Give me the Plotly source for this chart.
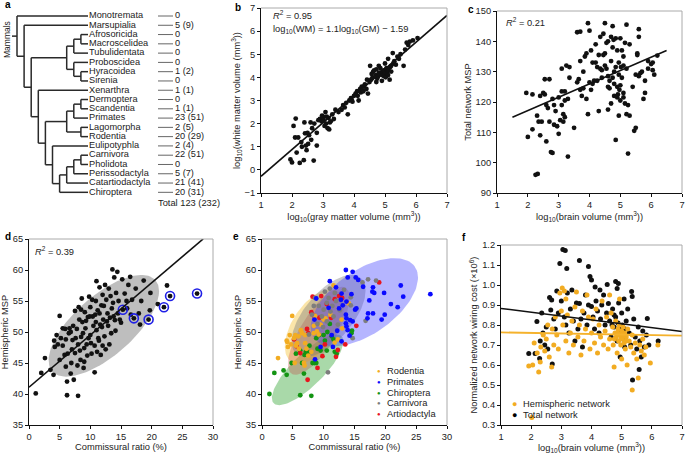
import numpy as np
import plotly.graph_objects as go

W, H = 685, 454
FONT = "Liberation Sans, Arial, sans-serif"

# ---------------- panel a: phylogeny ----------------
taxa = ["Monotremata", "Marsupialia", "Afrosoricida", "Macroscelidea", "Tubulidentata",
        "Proboscidea", "Hyracoidea", "Sirenia", "Xenarthra", "Dermoptera", "Scandentia",
        "Primates", "Lagomorpha", "Rodentia", "Eulipotyphla", "Carnivora", "Pholidota",
        "Perissodactyla", "Catartiodactyla", "Chiroptera"]
counts = ["0", "5 (9)", "0", "0", "0", "0", "1 (2)", "0", "1 (1)", "0", "1 (1)",
          "23 (51)", "2 (5)", "20 (29)", "2 (4)", "22 (51)", "0", "5 (7)", "21 (41)", "20 (31)"]
total_label = "Total 123 (232)"
tree = ("Monotremata",
        ("Marsupialia",
         (((("Afrosoricida", "Macroscelidea"), "Tubulidentata"),
           ("Proboscidea", ("Hyracoidea", "Sirenia"))),
          ("Xenarthra",
           (((("Dermoptera", "Scandentia"), "Primates"), ("Lagomorpha", "Rodentia")),
            ("Eulipotyphla",
             (((("Carnivora", "Pholidota"), "Perissodactyla"), "Catartiodactyla"),
              "Chiroptera")))))))

# ---------------- panel b ----------------
b_pts = [(1.95, 0.45), (2.0, 0.32), (2.05, 1.9), (2.1, 1.4), (2.12, 2.22), (2.15, 0.75), (2.2, 1.4),
         (2.25, 0.3), (2.3, 1.2), (2.32, 1.0), (2.38, 0.42), (2.4, 2.05), (2.42, 1.58), (2.45, 1.05),
         (2.47, 0.85), (2.5, 1.6), (2.52, 1.12), (2.55, 1.5), (2.6, 2.05), (2.62, 1.3), (2.65, 1.8),
         (2.7, 0.4), (2.72, 2.0), (2.8, 1.05), (2.8, 1.6), (2.85, 2.15), (2.9, 2.2), (2.95, 2.1),
         (2.97, 2.35), (3.0, 2.3), (3.02, 2.15), (3.05, 1.9), (3.08, 2.5), (3.1, 2.0), (3.12, 2.3),
         (3.15, 1.8), (3.18, 2.25), (3.2, 1.75), (3.22, 2.05), (3.25, 2.1), (3.3, 2.4), (3.35, 2.2),
         (3.4, 2.6), (3.5, 2.5), (3.6, 2.6), (3.65, 2.8), (3.7, 2.7), (3.75, 2.9), (3.8, 2.4),
         (3.85, 3.0), (3.9, 3.1), (3.92, 3.05), (3.95, 2.95), (4.0, 3.2), (4.05, 3.3), (4.1, 3.4),
         (4.12, 3.2), (4.15, 3.0), (4.2, 3.5), (4.22, 3.35), (4.25, 3.6), (4.3, 3.4), (4.32, 3.6),
         (4.35, 3.7), (4.4, 3.5), (4.42, 3.9), (4.45, 3.3), (4.5, 3.8), (4.52, 4.5), (4.55, 3.9),
         (4.57, 4.15), (4.6, 4.0), (4.62, 4.25), (4.65, 4.3), (4.7, 4.1), (4.72, 4.35), (4.72, 3.8),
         (4.75, 3.95), (4.78, 4.05), (4.8, 4.2), (4.8, 4.5), (4.85, 4.4), (4.87, 4.2), (4.9, 4.1),
         (4.9, 3.85), (4.92, 4.25), (4.95, 4.3), (4.97, 4.05), (5.0, 4.6), (5.0, 4.2), (5.02, 4.0),
         (5.03, 4.35), (5.05, 4.4), (5.07, 4.15), (5.1, 4.1), (5.1, 4.8), (5.12, 4.3), (5.15, 3.9),
         (5.17, 4.45), (5.2, 4.5), (5.2, 4.25), (5.25, 5.05), (5.27, 4.6), (5.3, 4.7), (5.35, 4.55),
         (5.4, 4.9), (5.45, 4.8), (5.5, 5.0), (5.6, 4.5), (5.65, 5.2), (5.7, 5.5), (5.75, 5.4),
         (5.8, 5.55), (5.9, 5.6), (6.05, 5.7)]
b_fit = (1.16, -1.44)
b_fit_x = [1, 7]

# ---------------- panel c ----------------
c_pts = [(1.95, 123), (2.0, 108.5), (2.15, 122.5), (2.15, 111), (2.25, 96), (2.32, 96.3), (2.3, 115.5),
         (2.35, 113.5), (2.4, 122), (2.4, 109), (2.45, 113.5), (2.5, 123), (2.55, 127.5), (2.55, 122.5),
         (2.6, 119), (2.6, 107), (2.65, 118), (2.7, 127.5), (2.7, 113.5), (2.75, 103.5), (2.8, 103.2),
         (2.8, 121), (2.85, 119), (2.85, 112.5), (2.9, 117), (2.95, 112), (3.0, 121.5), (3.0, 109.5),
         (3.05, 114), (3.1, 131), (3.1, 123.5), (3.1, 119), (3.15, 116), (3.15, 113.5), (3.2, 123.5),
         (3.2, 120.5), (3.2, 115), (3.25, 132), (3.3, 102), (3.3, 121), (3.35, 131.5), (3.35, 128),
         (3.5, 111.5), (3.6, 143), (3.65, 127.5), (3.7, 143.2), (3.7, 133.5), (3.7, 124), (3.75, 122),
         (3.8, 130), (3.85, 135), (3.9, 136), (3.9, 121), (3.95, 146), (3.95, 116), (4.0, 143.5),
         (4.0, 126.5), (4.05, 137), (4.1, 133), (4.15, 127), (4.2, 139), (4.25, 131.5), (4.3, 135.5),
         (4.3, 117), (4.35, 141.5), (4.4, 128), (4.45, 142.5), (4.5, 146), (4.5, 136), (4.55, 131),
         (4.6, 140), (4.6, 117.5), (4.65, 124.5), (4.7, 133.5), (4.75, 145), (4.75, 138), (4.75, 128),
         (4.8, 122), (4.8, 130), (4.85, 141), (4.85, 107.5), (4.9, 137), (4.9, 125), (4.95, 133),
         (4.95, 115.5), (5.0, 141), (5.0, 120.5), (5.05, 128), (5.1, 135), (5.1, 123), (5.15, 139.5),
         (5.2, 145.5), (5.2, 131), (5.25, 103), (5.25, 119), (5.3, 139), (5.3, 115.5), (5.4, 125),
         (5.45, 110.5), (5.5, 111.5), (5.55, 136), (5.6, 144), (5.6, 141.5), (5.65, 129.5), (5.7, 130),
         (5.75, 121), (5.8, 123), (5.8, 127), (5.9, 133.5), (6.0, 132.5), (6.05, 130.5), (6.1, 129),
         (6.2, 135.3), (4.05, 124), (4.2, 133), (4.4, 130.5), (4.55, 139.5), (4.65, 127), (4.8, 126),
         (4.9, 121.5), (4.95, 129), (5.0, 125.5), (5.05, 137), (4.7, 119.5), (4.85, 131.5), (4.1, 126),
         (4.25, 127), (3.6, 126.5), (3.8, 124.5), (4.35, 131), (4.45, 135.5), (4.6, 128.5), (4.7, 141.5),
         (4.78, 140.5), (4.92, 122.5), (5.02, 131.5), (5.1, 121.5), (5.15, 119.5), (5.2, 116), (5.5, 129),
         (5.55, 135.5), (5.6, 128.5), (5.9, 131), (6.05, 133), (4.6, 125), (4.97, 124), (5.1, 132),
         (4.5, 132)]
c_fit = (4.4, 108.4)
c_fit_x = [1.5, 6.5]

# ---------------- panel d ----------------
d_pts = [(1.1, 40.1), (2.0, 43.4), (2.6, 45.8), (3.5, 43.9), (4.0, 43.1), (4.1, 48.6), (4.2, 47.6),
         (4.5, 49.5), (4.7, 48.0), (5.0, 52.6), (5.0, 45.5), (5.2, 49.0), (5.5, 47.8), (5.8, 46.3),
         (5.9, 50.5), (6.0, 48.8), (6.2, 39.8), (6.2, 42.0), (6.3, 46.5), (6.5, 49.8), (6.6, 50.6),
         (6.8, 43.3), (6.9, 45.0), (7.0, 47.2), (7.1, 48.7), (7.3, 42.3), (7.5, 53.4), (7.5, 46.6),
         (7.8, 50.5), (8.0, 39.7), (8.0, 48.0), (8.1, 54.0), (8.2, 52.0), (8.4, 45.5), (8.5, 49.2),
         (8.6, 55.4), (8.7, 51.6), (8.9, 44.2), (9.0, 47.4), (9.1, 53.2), (9.2, 50.6), (9.4, 48.0),
         (9.6, 52.4), (9.8, 55.7), (10.0, 54.0), (10.0, 49.5), (10.2, 46.5), (10.4, 52.5), (10.5, 51.0),
         (10.7, 43.5), (10.7, 47.8), (10.9, 55.0), (11.0, 58.2), (11.0, 50.3), (11.2, 53.5), (11.4, 48.6),
         (11.5, 57.2), (11.6, 51.2), (11.7, 46.3), (11.8, 54.3), (12.0, 56.0), (12.1, 52.0), (12.3, 49.3),
         (12.5, 47.2), (12.6, 55.2), (12.8, 53.0), (12.9, 51.0), (13.0, 57.0), (13.2, 52.3), (13.4, 49.8),
         (13.6, 60.1), (13.7, 54.7), (13.9, 58.8), (14.0, 51.9), (14.2, 56.3), (14.4, 59.7), (14.6, 55.0),
         (14.8, 52.0), (15.2, 58.5), (15.3, 53.6), (15.6, 56.2), (15.9, 55.0), (16.2, 57.6), (16.5, 58.9),
         (16.8, 55.2), (17.1, 52.2), (17.4, 57.0), (17.9, 53.0), (18.1, 51.2), (18.3, 55.0), (18.7, 58.3),
         (19.5, 52.0), (19.8, 56.3), (19.7, 53.5), (21.0, 54.5), (22.0, 54.0), (22.5, 57.5), (23.0, 55.8),
         (27.4, 56.2), (6.8, 50.0), (7.2, 51.0), (7.6, 49.0), (8.3, 47.0), (8.8, 49.8), (9.3, 51.8),
         (9.5, 46.2), (9.9, 52.5), (10.3, 55.2), (10.8, 52.8), (11.3, 49.0), (11.9, 50.8), (12.2, 54.2),
         (12.7, 51.7), (13.1, 48.0), (13.3, 55.8), (13.8, 52.5), (14.1, 50.2), (14.5, 53.0), (15.0, 51.5),
         (16.0, 53.8), (16.6, 52.8), (9.0, 45.2), (8.5, 53.6), (10.1, 48.2), (11.1, 46.8), (12.4, 57.6),
         (13.5, 53.8), (7.9, 44.6), (6.0, 44.4), (5.5, 50.6), (9.7, 49.0), (10.9, 51.6), (12.0, 47.8),
         (11.5, 53.0)]
d_ring_pts = [(15.3, 53.6), (17.1, 52.2), (19.5, 52.0), (22.0, 54.0), (23.0, 55.8), (27.4, 56.2)]
d_fit = (0.842, 41.1)
d_fit_x = [0, 28.4]
# ellipse: centre x, centre y, half-width x, half-height y, correlation
d_ell = (12.2, 51.0, 9.0, 8.2, 0.68)

# ---------------- panel e ----------------
orders = ["Rodentia", "Primates", "Chiroptera", "Carnivora", "Artiodactyla"]
order_colors = ["#f2ac22", "#0a0aff", "#139413", "#7d7d7d", "#e8141e"]
e_pts = {
    "Rodentia": [(2.6, 45.8), (4.0, 48.6), (4.1, 48.4), (4.2, 47.6), (4.5, 49.5), (4.7, 48.0), (4.9, 52.6),
                 (5.2, 49.0), (5.4, 49.5), (5.5, 47.8), (5.7, 48.2), (5.9, 49.3), (6.3, 50.3), (6.5, 49.8),
                 (7.0, 48.2), (7.0, 49.5), (7.2, 47.3), (7.5, 46.2), (6.8, 45.0), (6.9, 44.6), (8.0, 46.8),
                 (8.4, 51.0), (8.4, 49.8), (8.6, 52.6), (8.9, 50.1), (9.5, 51.2), (10.0, 52.0), (10.3, 52.2),
                 (11.1, 52.8), (11.6, 57.5), (11.8, 48.3), (12.9, 52.0), (13.0, 50.6), (5.3, 45.0),
                 (6.0, 47.3), (9.2, 49.6), (12.3, 48.8), (14.1, 54.6)],
    "Primates": [(13.6, 60.0), (14.7, 59.7), (13.9, 58.8), (15.2, 58.8), (15.6, 58.4), (11.0, 58.2),
                 (12.0, 57.2), (16.4, 57.3), (18.0, 57.2), (17.9, 56.5), (18.2, 56.3), (19.8, 56.3),
                 (22.5, 57.5), (22.9, 55.7), (27.3, 56.1), (20.9, 54.5), (22.0, 54.0), (17.4, 55.1),
                 (17.2, 53.0), (18.0, 53.0), (19.9, 52.8), (19.4, 52.0), (17.1, 52.2), (13.6, 52.8),
                 (13.7, 52.2), (13.6, 51.4), (14.3, 51.9), (13.7, 50.9), (15.1, 53.6), (15.3, 53.8),
                 (12.8, 55.2), (13.1, 54.3), (13.7, 54.9), (14.5, 56.1), (12.9, 48.5), (11.3, 49.5),
                 (12.9, 56.2), (10.8, 53.9), (8.8, 55.4), (9.5, 47.6), (8.6, 45.6), (11.5, 47.6),
                 (14.2, 49.4), (12.2, 50.2), (14.7, 51.7), (13.9, 50.3), (12.5, 53.8), (8.5, 52.0)],
    "Chiroptera": [(1.2, 40.0), (2.0, 43.4), (3.5, 43.8), (4.0, 43.1), (4.8, 45.0), (5.5, 46.5), (6.2, 39.8),
                   (6.2, 47.0), (6.5, 45.0), (6.8, 43.3), (6.9, 46.3), (7.1, 46.8), (7.3, 46.5), (7.5, 46.7),
                   (8.0, 39.7), (8.2, 45.0), (8.5, 45.0), (8.8, 45.0), (9.0, 47.3), (9.5, 47.0), (10.0, 49.5),
                   (10.2, 48.6), (10.5, 47.0), (11.0, 51.3), (11.6, 48.8), (11.8, 46.8), (12.1, 46.5),
                   (14.6, 50.2), (14.5, 49.8), (9.3, 49.5), (8.8, 49.0), (10.6, 50.0), (7.7, 47.8),
                   (11.3, 49.3)],
    "Carnivora": [(10.8, 55.5), (10.5, 54.7), (11.4, 54.2), (10.0, 53.6), (11.1, 53.3), (11.6, 52.5),
                  (9.7, 52.5), (10.5, 51.7), (9.2, 54.2), (8.4, 54.2), (8.6, 55.5), (8.1, 52.8), (12.0, 55.0),
                  (12.3, 51.2), (7.6, 49.6), (10.7, 43.5), (14.7, 49.0), (17.2, 58.5), (18.5, 58.3),
                  (16.3, 58.0), (16.8, 51.8), (14.4, 55.6), (11.8, 56.3), (14.4, 54.3), (9.9, 50.8),
                  (10.2, 56.5), (11.0, 57.0), (9.0, 51.3), (12.6, 53.5), (13.3, 56.8)],
    "Artiodactyla": [(5.2, 48.8), (5.6, 47.7), (6.2, 46.6), (7.4, 42.3), (7.5, 49.8), (7.3, 50.5), (8.0, 53.2),
                     (8.2, 55.7), (8.5, 52.6), (9.0, 44.2), (9.3, 52.3), (9.6, 55.8), (10.5, 54.5), (11.2, 52.3),
                     (12.0, 46.0), (12.3, 47.1), (12.5, 55.8), (13.0, 55.5), (13.5, 48.0), (15.3, 51.0),
                     (19.0, 58.0), (11.8, 55.3), (10.2, 48.0), (9.8, 46.1)],
}
e_ell = {
    "Chiroptera": (7.4, 43.9, 5.8, 5.7, 0.8),
    "Rodentia": (8.5, 50.9, 4.8, 6.0, 0.54),
    "Artiodactyla": (9.2, 50.2, 5.0, 7.1, 0.75),
    "Carnivora": (10.8, 52.6, 6.0, 6.6, 0.62),
    "Primates": (16.6, 54.8, 8.7, 7.1, 0.56),
}
e_ell_order = ["Chiroptera", "Rodentia", "Artiodactyla", "Carnivora", "Primates"]

# ---------------- panel f ----------------
f_total = [(1.92, 0.658), (2.13, 0.658), (2.19, 0.817), (2.28, 0.633), (2.3, 0.72), (2.35, 0.86), (2.39, 0.76),
           (2.45, 0.70), (2.5, 0.79), (2.55, 0.68), (2.61, 0.937), (2.65, 0.875), (2.68, 0.925), (2.7, 0.605),
           (2.75, 0.83), (2.8, 0.78), (2.85, 0.97), (2.9, 0.86), (2.95, 1.108), (3.0, 0.92), (3.05, 1.178),
           (3.1, 0.84), (3.13, 1.172), (3.15, 0.8), (3.18, 1.083), (3.2, 0.96), (3.25, 0.76), (3.3, 0.88),
           (3.35, 0.975), (3.4, 0.82), (3.45, 0.72), (3.5, 0.91), (3.55, 0.78), (3.6, 1.122), (3.6, 0.908),
           (3.65, 0.83), (3.7, 0.69), (3.75, 0.86), (3.8, 0.95), (3.85, 0.8), (3.9, 1.092), (3.9, 0.9),
           (3.95, 1.042), (4.0, 1.025), (4.0, 0.892), (4.05, 0.84), (4.1, 0.78), (4.12, 0.99), (4.15, 0.92),
           (4.2, 0.87), (4.25, 0.76), (4.28, 0.975), (4.3, 0.83), (4.34, 0.9), (4.4, 0.95), (4.45, 0.8),
           (4.5, 0.86), (4.52, 1.003), (4.56, 0.908), (4.6, 0.82), (4.65, 0.74), (4.7, 0.88), (4.75, 0.79),
           (4.8, 1.017), (4.8, 0.84), (4.85, 0.983), (4.85, 0.72), (4.89, 1.008), (4.9, 0.91), (4.92, 0.77),
           (4.95, 0.64), (5.0, 0.86), (5.02, 0.8), (5.05, 0.73), (5.08, 0.93), (5.1, 0.69), (5.15, 0.82),
           (5.2, 0.88), (5.25, 0.76), (5.3, 0.7), (5.33, 0.967), (5.35, 0.942), (5.36, 0.525), (5.4, 0.83),
           (5.45, 0.74), (5.5, 0.68), (5.55, 0.79), (5.58, 0.578), (5.6, 0.72), (5.65, 0.64), (5.7, 0.77),
           (5.75, 0.69), (5.82, 0.75), (5.85, 0.833), (5.9, 0.7), (6.21, 0.72), (4.98, 0.78), (4.88, 0.81),
           (4.75, 0.85), (5.12, 0.78), (4.68, 0.8)]
f_hemi = [(1.92, 0.595), (2.05, 0.6), (2.1, 0.71), (2.2, 0.66), (2.25, 0.565), (2.3, 0.615), (2.32, 0.69),
          (2.4, 0.75), (2.45, 0.67), (2.5, 0.73), (2.55, 0.8), (2.6, 0.64), (2.68, 0.59), (2.7, 0.78),
          (2.75, 0.7), (2.8, 0.84), (2.85, 0.75), (2.9, 0.68), (2.95, 0.96), (3.0, 0.87), (3.03, 0.985),
          (3.05, 0.8), (3.1, 0.97), (3.15, 0.93), (3.15, 0.72), (3.2, 0.85), (3.25, 0.66), (3.3, 0.76),
          (3.35, 0.82), (3.4, 0.7), (3.45, 0.89), (3.5, 0.965), (3.55, 0.74), (3.6, 0.8), (3.65, 0.65),
          (3.7, 0.87), (3.75, 0.72), (3.8, 0.78), (3.85, 0.95), (3.9, 0.84), (3.95, 0.68), (4.0, 0.76),
          (4.05, 0.83), (4.1, 0.71), (4.15, 0.88), (4.2, 0.66), (4.25, 0.8), (4.3, 0.74), (4.35, 0.92),
          (4.4, 0.7), (4.45, 0.77), (4.5, 0.84), (4.55, 0.68), (4.6, 0.73), (4.65, 0.86), (4.7, 0.79),
          (4.72, 0.7), (4.75, 0.59), (4.78, 0.76), (4.8, 0.82), (4.82, 0.74), (4.85, 0.66), (4.88, 0.78),
          (4.9, 0.72), (4.92, 0.8), (4.95, 0.75), (4.97, 0.7), (5.0, 0.77), (5.0, 0.63), (5.02, 0.73),
          (5.05, 0.79), (5.08, 0.71), (5.1, 0.76), (5.12, 0.68), (5.15, 0.74), (5.18, 0.6), (5.2, 0.78),
          (5.25, 0.72), (5.3, 0.69), (5.35, 0.475), (5.35, 0.75), (5.4, 0.66), (5.45, 0.71), (5.5, 0.63),
          (5.55, 0.535), (5.6, 0.7), (5.65, 0.67), (5.7, 0.73), (5.75, 0.65), (5.8, 0.69), (5.95, 0.61),
          (6.2, 0.70), (2.02, 0.337), (4.93, 0.93), (4.6, 0.95), (4.87, 0.76), (4.98, 0.74), (5.06, 0.75),
          (4.76, 0.73), (5.14, 0.72)]
f_total_fit = (-0.0193, 0.902)
f_hemi_fit = (-0.00267, 0.7657)
f_fit_x = [1, 7]

BLACK = "#111111"
ORANGE = "#f2ac22"


def px(x):
    return x / W


def py(y):
    return 1 - y / H


def xs(p):
    return [a for a, _ in p]


def ys(p):
    return [b for _, b in p]


def fit_line(coef, xr):
    xr = np.array(xr, dtype=float)
    return xr, coef[0] * xr + coef[1]


def ellipse(e, n=120):
    cx, cy, rx, ry, rho = e
    t = np.linspace(0, 2 * np.pi, n)
    return cx + rx * np.cos(t), cy + ry * (rho * np.cos(t) + np.sqrt(1 - rho ** 2) * np.sin(t))


fig = go.Figure()


def dots(p, xa, ya, color, size=4.8):
    fig.add_trace(go.Scatter(x=xs(p), y=ys(p), mode="markers", xaxis=xa, yaxis=ya,
                             marker=dict(color=color, size=size, line=dict(width=0)),
                             hoverinfo="skip"))


def line(coef, xr, xa, ya, color=BLACK, width=1.6):
    lx, ly = fit_line(coef, xr)
    fig.add_trace(go.Scatter(x=lx, y=ly, mode="lines", xaxis=xa, yaxis=ya,
                             line=dict(color=color, width=width), hoverinfo="skip"))


# b
dots(b_pts, "x", "y", BLACK)
line(b_fit, b_fit_x, "x", "y")
# c
dots(c_pts, "x2", "y2", BLACK)
line(c_fit, c_fit_x, "x2", "y2")
# d
ex, ey = ellipse(d_ell)
fig.add_trace(go.Scatter(x=ex, y=ey, mode="lines", fill="toself", xaxis="x3", yaxis="y3",
                         fillcolor="rgba(150,150,150,0.62)", line=dict(width=0), hoverinfo="skip"))
dots(d_pts, "x3", "y3", BLACK)
fig.add_trace(go.Scatter(x=xs(d_ring_pts), y=ys(d_ring_pts), mode="markers", xaxis="x3", yaxis="y3",
                         marker=dict(size=9, color="rgba(0,0,0,0)", line=dict(color="#1f1fe6", width=1.6)),
                         hoverinfo="skip"))
line(d_fit, d_fit_x, "x3", "y3")
# e
fills = {"Rodentia": "rgba(245,190,40,0.4)", "Primates": "rgba(70,70,255,0.4)",
         "Chiroptera": "rgba(40,160,40,0.4)", "Carnivora": "rgba(120,120,120,0.4)",
         "Artiodactyla": "rgba(200,60,60,0.3)"}
for name in e_ell_order:
    ex, ey = ellipse(e_ell[name])
    fig.add_trace(go.Scatter(x=ex, y=ey, mode="lines", fill="toself", xaxis="x4", yaxis="y4",
                             fillcolor=fills[name], line=dict(width=0), hoverinfo="skip"))
for name, col in zip(["Chiroptera", "Artiodactyla", "Rodentia", "Carnivora", "Primates"],
                     [order_colors[2], order_colors[4], order_colors[0], order_colors[3], order_colors[1]]):
    dots(e_pts[name], "x4", "y4", col, size=4.8)
# f
dots(f_total, "x5", "y5", BLACK, size=5)
dots(f_hemi, "x5", "y5", ORANGE, size=5)
line(f_total_fit, f_fit_x, "x5", "y5", BLACK, 1.5)
line(f_hemi_fit, f_fit_x, "x5", "y5", "#f5b22c", 1.8)

# a: tree drawn on a pixel-like axis
row0, row_step = 16.0, 9.28
tip_x, step = 88.0, 7.1
row_y = {t: row0 + i * row_step for i, t in enumerate(taxa)}
seg_x, seg_y = [], []


def place(node):
    if isinstance(node, str):
        return tip_x, row_y[node], 0
    kids = [place(k) for k in node]
    h = max(k[2] for k in kids) + 1
    nx = tip_x - h * step
    ky = [k[1] for k in kids]
    seg_x.extend([nx, nx, None])
    seg_y.extend([min(ky), max(ky), None])
    for kx, kyy, _ in kids:
        seg_x.extend([nx, kx, None])
        seg_y.extend([kyy, kyy, None])
    return nx, sum(ky) / len(ky), h


rx_, ry_, _ = place(tree)
seg_x.extend([rx_ - 5, rx_, None])
seg_y.extend([ry_, ry_, None])
fig.add_trace(go.Scatter(x=seg_x, y=seg_y, mode="lines", xaxis="x6", yaxis="y6",
                         line=dict(color="#2a2a2a", width=1.5), hoverinfo="skip"))
dash_x, dash_y = [], []
for t in taxa:
    dash_x.extend([158, 173, None])
    dash_y.extend([row_y[t], row_y[t], None])
fig.add_trace(go.Scatter(x=dash_x, y=dash_y, mode="lines", xaxis="x6", yaxis="y6",
                         line=dict(color="#666666", width=1), hoverinfo="skip"))
fig.add_trace(go.Scatter(x=[89] * len(taxa), y=[row_y[t] for t in taxa], mode="text", text=taxa,
                         textposition="middle right", xaxis="x6", yaxis="y6",
                         textfont=dict(family=FONT, size=9.2, color="#222"), hoverinfo="skip"))
fig.add_trace(go.Scatter(x=[175] * len(taxa), y=[row_y[t] for t in taxa], mode="text", text=counts,
                         textposition="middle right", xaxis="x6", yaxis="y6",
                         textfont=dict(family=FONT, size=9.2, color="#222"), hoverinfo="skip"))

TF = dict(family=FONT, size=9.3, color="#222")


def axis(domain, rng, dtick, anchor, title, fmt=None, standoff=2):
    d = dict(domain=domain, range=rng, dtick=dtick, anchor=anchor, showline=True, linecolor=BLACK,
             linewidth=1, ticks="outside", ticklen=3, tickcolor=BLACK, showgrid=False, zeroline=False,
             tickfont=TF, title=dict(text=title, font=TF, standoff=standoff), fixedrange=True,
             automargin=False)
    if fmt:
        d["tickformat"] = fmt
    return d


logt = "log<sub>10</sub>"
layout = dict(
    width=W, height=H, margin=dict(l=0, r=0, t=0, b=0, autoexpand=False), showlegend=False,
    paper_bgcolor="white", plot_bgcolor="white", font=dict(family=FONT, color="#222"),
    xaxis=axis([px(261), px(447)], [1, 7], 1, "y", logt + "(gray matter volume (mm<sup>3</sup>))",
               standoff=0),
    yaxis=axis([py(193), py(8)], [-1, 7], 1, "x", logt + "(white matter volume (mm<sup>3</sup>))"),
    xaxis2=axis([px(497), px(682)], [1, 7], 1, "y2", logt + "(brain volume (mm<sup>3</sup>))", standoff=0),
    yaxis2=axis([py(193), py(11)], [90, 150], 10, "x2", "Total network MSP"),
    xaxis3=axis([px(29), px(213)], [0, 30], 5, "y3", "Commissural ratio (%)"),
    yaxis3=axis([py(425), py(239)], [35, 65], 5, "x3", "Hemispheric MSP"),
    xaxis4=axis([px(262), px(447)], [0, 30], 5, "y4", "Commissural ratio (%)"),
    yaxis4=axis([py(425), py(239)], [35, 65], 5, "x4", "Hemispheric MSP"),
    xaxis5=axis([px(501), px(682)], [1, 7], 1, "y5", logt + "(brain volume (mm<sup>3</sup>))", standoff=0),
    yaxis5=axis([py(425), py(245)], [0.3, 1.2], 0.1, "x5",
                "Normalized network wiring cost (×10<sup>6</sup>)", fmt=".1f"),
    xaxis6=dict(domain=[0, px(230)], range=[0, 230], visible=False, fixedrange=True, anchor="y6"),
    yaxis6=dict(domain=[py(225), 1], range=[225, 0], visible=False, fixedrange=True, anchor="x6"),
)
fig.update_layout(**layout)

# light top/right frame
shapes = []
for ax in ["", "2", "3", "4", "5"]:
    shapes.append(dict(type="line", xref=f"x{ax} domain", yref=f"y{ax} domain", x0=0, x1=1, y0=1, y1=1,
                       line=dict(color="#aaaaaa", width=1)))
    shapes.append(dict(type="line", xref=f"x{ax} domain", yref=f"y{ax} domain", x0=1, x1=1, y0=0, y1=1,
                       line=dict(color="#aaaaaa", width=1)))
fig.update_layout(shapes=shapes)

ann = []


def note(x, y, text, size=9.3, color="#222", bold=False, xanchor="left", angle=0):
    ann.append(dict(x=px(x), y=py(y), xref="paper", yref="paper", text=f"<b>{text}</b>" if bold else text,
                    showarrow=False, xanchor=xanchor, yanchor="middle", textangle=angle,
                    font=dict(family=FONT, size=size, color=color)))


for letter, lx, ly in [("a", 3, 5), ("b", 233, 7), ("c", 466, 9), ("d", 3, 236), ("e", 231, 236),
                       ("f", 460, 238)]:
    note(lx, ly, letter, size=10, color="black", bold=True)
note(7, 40, "Mammals", size=8.5, angle=-90, xanchor="center")
note(156, 203, total_label)
note(271, 15, "<i>R</i><sup>2</sup> = 0.95")
note(271, 30, "log<sub>10</sub>(WM) = 1.1log<sub>10</sub>(GM) − 1.59")
note(504, 22, "<i>R</i><sup>2</sup> = 0.21")
note(33, 251, "<i>R</i><sup>2</sup> = 0.39")
for i, (name, col) in enumerate(zip(orders, order_colors)):
    yy = 371 + i * 10.8
    note(379.3, yy, "●", size=6, color=col, xanchor="center")
    note(385, yy, name)
note(514.3, 404.3, "●", size=9, color=ORANGE, xanchor="center")
note(521, 404.3, "Hemispheric network")
note(514.3, 415, "●", size=9, color="black", xanchor="center")
note(521, 415, "Total network")
fig.update_layout(annotations=ann)

fig.write_html("out.html", config={"displayModeBar": False},
               post_script="document.body.style.margin='0';document.body.style.overflow='hidden';")
